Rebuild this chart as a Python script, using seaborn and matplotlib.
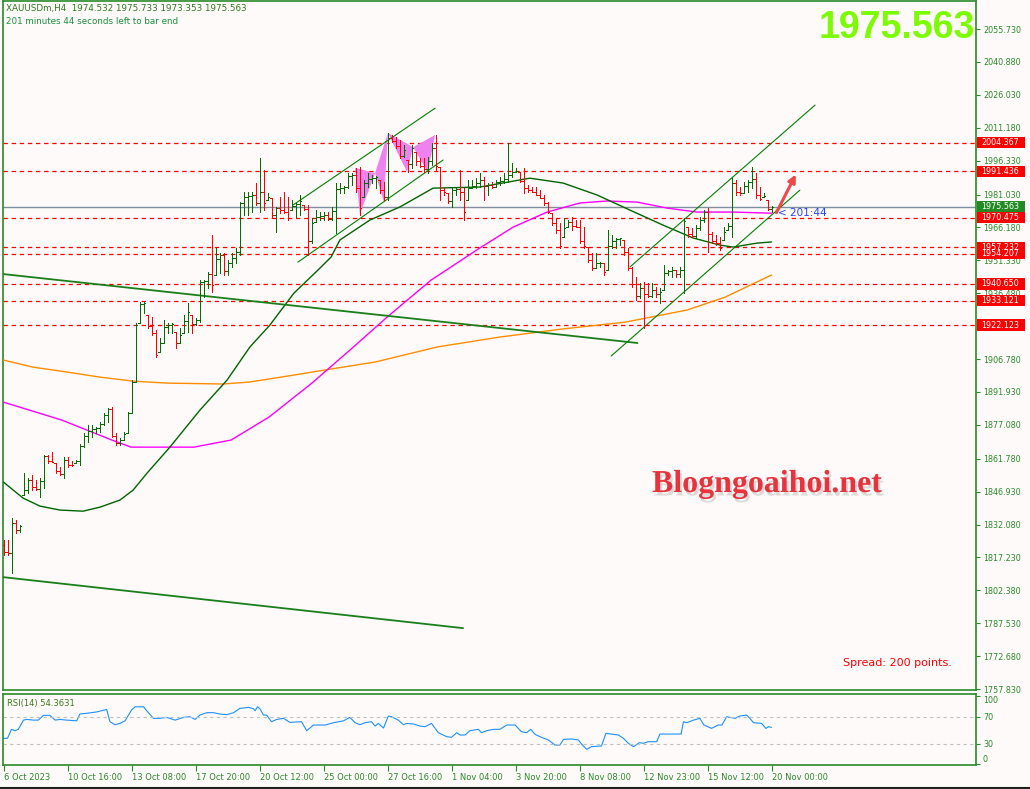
import numpy as np
import pandas as pd
import matplotlib
matplotlib.use("Agg")
import matplotlib.pyplot as plt
import matplotlib.transforms as mtransforms
import matplotlib.patheffects as pe
from matplotlib.patches import Rectangle
from matplotlib.lines import Line2D
import seaborn as sns

# --- XAUUSDm H4 bars, bar 0 = 6 Oct 2023 ---
highs = [1825.0, 1825.0, 1835.0, 1834.1, 1831.8, 1855.3, 1853.0, 1854.4, 1852.1, 1853.0,
         1863.4, 1863.4, 1864.8, 1859.8, 1858.0, 1862.5, 1862.5, 1860.7, 1861.2, 1868.4,
         1873.3, 1876.9, 1876.9, 1876.0, 1878.3, 1882.4, 1884.6, 1885.1, 1873.3, 1871.1,
         1873.8, 1882.8, 1897.3, 1923.0, 1932.5, 1932.5, 1926.6, 1925.7, 1919.9, 1916.2,
         1924.4, 1923.0, 1923.0, 1918.9, 1920.8, 1926.6, 1932.0, 1926.6, 1925.3, 1942.4,
         1942.4, 1946.0, 1962.7, 1956.9, 1954.6, 1954.6, 1951.4, 1954.6, 1956.9, 1977.6,
         1982.1, 1982.1, 1982.1, 1986.2, 1997.5, 1992.1, 1981.7, 1979.4, 1975.5, 1979.9,
         1982.1, 1979.9, 1978.5, 1977.0, 1980.8, 1976.3, 1976.3, 1970.4, 1974.0, 1973.1,
         1973.1, 1973.1, 1975.4, 1986.2, 1986.2, 1985.0, 1990.7, 1990.7, 1993.0, 1993.4,
         1987.5, 1990.7, 1989.8, 1989.5, 1987.5, 1986.6, 2008.8, 2007.9, 2007.0, 2005.6,
         2003.3, 1996.6, 2003.3, 2000.2, 1997.5, 1997.5, 1997.9, 2004.2, 2007.9, 1993.4,
         1984.0, 1981.7, 1984.0, 1984.0, 1992.1, 1984.0, 1987.5, 1987.5, 1988.5, 1990.7,
         1988.9, 1986.2, 1986.6, 1987.5, 1988.9, 1990.7, 2004.3, 1995.2, 1993.0, 1991.2,
         1993.0, 1985.3, 1984.4, 1984.4, 1983.0, 1980.8, 1977.6, 1972.6, 1970.4, 1968.1,
         1970.4, 1969.5, 1970.8, 1969.5, 1969.5, 1966.3, 1957.3, 1954.6, 1954.6, 1950.5,
         1950.1, 1965.0, 1962.7, 1961.4, 1961.4, 1960.5, 1956.9, 1948.3, 1943.8, 1941.0,
         1941.5, 1941.0, 1941.0, 1939.2, 1938.8, 1949.2, 1946.9, 1948.3, 1946.9, 1948.3,
         1970.4, 1966.3, 1965.9, 1967.2, 1970.8, 1974.0, 1974.9, 1964.1, 1962.7, 1961.8,
         1966.3, 1968.1, 1988.9, 1987.5, 1984.4, 1986.6, 1987.5, 1993.4, 1990.7, 1984.4,
         1981.7, 1978.5, 1975.733]
lows = [1818.3, 1818.3, 1810.2, 1828.2, 1828.7, 1845.4, 1846.3, 1847.6, 1847.6, 1844.4,
        1848.5, 1859.8, 1860.3, 1855.3, 1854.4, 1853.0, 1858.0, 1858.7, 1859.8, 1858.9,
        1867.0, 1869.3, 1871.5, 1873.3, 1873.8, 1877.0, 1878.3, 1871.5, 1867.9, 1867.9,
        1870.2, 1873.3, 1882.4, 1896.4, 1923.0, 1927.5, 1920.8, 1917.6, 1907.7, 1909.9,
        1914.0, 1918.5, 1918.5, 1911.7, 1914.0, 1918.5, 1918.9, 1918.5, 1922.1, 1923.5,
        1934.7, 1938.8, 1937.0, 1944.7, 1945.6, 1944.7, 1944.7, 1948.3, 1950.1, 1953.7,
        1971.7, 1971.7, 1973.1, 1976.3, 1973.1, 1974.0, 1978.5, 1970.4, 1964.1, 1972.6,
        1972.6, 1969.5, 1974.0, 1970.8, 1971.7, 1974.0, 1953.7, 1959.1, 1968.6, 1969.5,
        1969.5, 1969.5, 1969.5, 1963.6, 1981.7, 1981.7, 1983.9, 1985.3, 1982.1, 1971.7,
        1979.9, 1984.4, 1986.2, 1983.9, 1981.7, 1978.5, 1978.5, 2004.7, 2002.0, 1997.5,
        1997.9, 1991.2, 1993.0, 1994.3, 1993.4, 1991.2, 1990.7, 1994.3, 1992.1, 1978.5,
        1980.8, 1977.2, 1975.4, 1980.8, 1978.5, 1969.5, 1978.5, 1983.9, 1983.9, 1984.4,
        1978.5, 1980.8, 1983.9, 1984.4, 1985.3, 1986.2, 1986.6, 1988.9, 1991.2, 1986.6,
        1981.7, 1982.1, 1982.1, 1980.8, 1979.4, 1976.3, 1972.6, 1967.2, 1963.6, 1956.9,
        1961.8, 1966.3, 1965.0, 1966.3, 1959.1, 1956.9, 1950.5, 1946.9, 1947.8, 1948.3,
        1944.7, 1946.9, 1956.9, 1956.9, 1958.2, 1953.7, 1946.9, 1939.3, 1933.4, 1934.3,
        1920.8, 1934.7, 1934.7, 1934.7, 1932.0, 1937.9, 1944.7, 1943.8, 1943.8, 1943.8,
        1936.5, 1961.8, 1961.8, 1961.4, 1965.0, 1968.6, 1955.0, 1959.1, 1958.2, 1955.9,
        1960.5, 1965.0, 1961.8, 1980.8, 1980.8, 1981.7, 1982.1, 1983.9, 1979.4, 1978.5,
        1979.9, 1974.0, 1973.353]
closes = [1819.5, 1819.0, 1832.7, 1829.6, 1831.4, 1847.6, 1852.1, 1849.0, 1848.1, 1851.7,
          1863.0, 1860.7, 1860.4, 1856.2, 1855.0, 1861.0, 1859.0, 1858.8, 1860.7, 1867.5,
          1872.0, 1874.5, 1875.0, 1875.6, 1877.5, 1881.5, 1884.0, 1872.0, 1869.0, 1870.2,
          1873.0, 1882.4, 1896.5, 1922.0, 1931.5, 1932.0, 1921.5, 1918.5, 1908.5, 1914.0,
          1921.0, 1922.0, 1922.5, 1914.0, 1917.5, 1924.0, 1928.0, 1922.5, 1924.5, 1941.5,
          1942.2, 1945.0, 1940.0, 1952.0, 1953.5, 1946.5, 1950.0, 1952.5, 1955.0, 1977.0,
          1980.0, 1980.5, 1981.0, 1977.0, 1982.0, 1977.0, 1980.0, 1972.0, 1975.0, 1974.0,
          1973.0, 1970.5, 1976.0, 1976.8, 1978.0, 1974.5, 1960.0, 1968.0, 1971.0, 1971.5,
          1972.0, 1970.0, 1973.5, 1983.5, 1984.0, 1984.5, 1989.5, 1990.0, 1984.0, 1975.0,
          1986.0, 1988.0, 1988.5, 1989.0, 1983.0, 1980.0, 2006.5, 2005.0, 2003.0, 1998.5,
          2001.0, 1995.0, 2002.0, 1996.0, 1994.0, 1992.5, 1996.0, 2002.0, 1994.0, 1983.0,
          1982.0, 1978.0, 1983.0, 1983.5, 1982.0, 1973.0, 1984.0, 1985.0, 1986.0, 1987.5,
          1985.0, 1985.5, 1984.5, 1986.5, 1987.0, 1988.0, 1990.0, 1991.0, 1991.5, 1987.0,
          1984.0, 1983.0, 1982.2, 1981.0, 1979.5, 1977.0, 1973.0, 1968.0, 1965.0, 1958.0,
          1966.0, 1968.5, 1967.0, 1966.5, 1960.0, 1958.0, 1951.5, 1948.0, 1950.0, 1950.3,
          1946.0, 1958.0, 1960.0, 1961.0, 1961.2, 1955.0, 1948.0, 1940.5, 1935.0, 1939.0,
          1936.0, 1935.0, 1938.0, 1936.0, 1937.0, 1945.5, 1946.5, 1947.0, 1945.0, 1947.0,
          1969.0, 1963.0, 1962.5, 1966.0, 1969.5, 1973.0, 1963.0, 1960.0, 1959.0, 1957.0,
          1964.0, 1967.0, 1986.0, 1982.0, 1981.5, 1985.0, 1986.5, 1988.0, 1981.0, 1979.0,
          1980.5, 1974.532, 1975.563]
first_open = 1823.0

# moving averages (bar index, price)
ma_green_idx = [0, 4.9, 9.1, 14.1, 19.9, 24.1, 29.1, 32.4, 35.9, 41.6, 49.1, 55.9, 61.6,
                66.6, 72.6, 78.6, 81.9, 84.1, 91.6, 99.1, 107.4, 119.1, 131.6, 139.9,
                148.4, 156.6, 164.9, 172.4, 179.1, 182.4, 188.4, 192]
ma_green_val = [1851.2, 1844.0, 1840.4, 1838.6, 1838.1, 1839.9, 1843.1, 1847.6, 1855.3,
                1867.0, 1883.7, 1897.3, 1912.2, 1922.1, 1936.5, 1946.9, 1952.8, 1960.5,
                1969.5, 1975.4, 1983.9, 1984.4, 1988.4, 1986.2, 1980.8, 1974.0, 1967.2,
                1961.4, 1958.2, 1957.3, 1959.1, 1959.6]
ma_magenta_idx = [0, 14.6, 27.1, 31.9, 47.6, 56.9, 66.4, 77.1, 86.6, 95.9, 106.9, 119.1,
                  127.4, 135.9, 144.1, 150.9, 158.4, 165.9, 173.4, 182.4, 192]
ma_magenta_val = [1887.3, 1879.2, 1870.2, 1867.0, 1867.0, 1870.2, 1880.6, 1895.9, 1910.8,
                  1925.7, 1942.4, 1956.9, 1966.3, 1973.1, 1977.2, 1978.1, 1977.6, 1974.9,
                  1973.1, 1973.1, 1972.6]
ma_orange_idx = [0, 7.4, 15.9, 24.1, 32.4, 40.9, 54.9, 61.6, 69.4, 83.4, 92.9, 108.4,
                 124.1, 139.6, 155.4, 170.9, 180.4, 192]
ma_orange_val = [1906.3, 1903.1, 1900.9, 1898.6, 1896.8, 1895.9, 1895.5, 1896.4, 1898.6,
                 1902.7, 1905.4, 1912.2, 1916.7, 1920.3, 1923.4, 1928.9, 1934.7, 1944.7]

# drawn trend / channel lines (bar index pairs, price pairs)
trend_long = ([0, 158.5], [1945.1, 1914.0])
trend_low = ([0, 114.9], [1808.3, 1785.3])
chan1_up = ([72.4, 107.9], [1976.3, 2020.0])
chan1_dn = ([73.6, 109.9], [1950.5, 1996.6])
chan2_up = ([156.6, 202.9], [1948.3, 2021.4])
chan2_dn = ([151.9, 199.1], [1908.1, 1983.0])

# harmonic pattern triangles
pat_tris = [
    ([87.9, 89.1, 92.9], [1993.0, 1972.2, 1990.7]),
    ([92.9, 95.1, 96.1], [1990.7, 1977.6, 2008.8]),
    ([96.1, 100.9, 102.4], [2008.8, 1991.2, 2002.4]),
    ([102.4, 106.1, 107.9], [2002.4, 1991.2, 2007.9]),
]

levels = [2004.367, 1991.436, 1970.475, 1957.232, 1954.207, 1940.650, 1933.121, 1922.123]
bid = 1975.563

# RSI(14)
rsi_idx = [0, 1.0, 2.0, 2.9, 3.7, 5.0, 5.8, 7.5, 8.7, 10.0, 11.6, 12.9, 14.1, 15.8, 18.3,
           19.1, 20.8, 23.3, 25.8, 26.6, 27.9, 29.1, 30.4, 32.0, 32.9, 35.0, 35.8, 37.5,
           39.1, 40.8, 42.9, 45.0, 46.6, 47.9, 49.1, 50.8, 52.5, 54.1, 55.8, 57.5, 59.1,
           61.2, 62.5, 62.9, 63.5, 64.1, 65.0, 65.8, 67.0, 68.3, 70.0, 71.6, 74.5, 75.8,
           77.5, 80.4, 82.5, 85.0, 86.6, 87.9, 89.1, 90.4, 92.0, 92.9, 93.7, 95.0, 96.2,
           97.0, 98.7, 100.0, 100.8, 102.5, 104.1, 105.4, 107.0, 108.7, 110.8, 112.0,
           113.3, 114.1, 115.4, 116.6, 118.7, 119.5, 120.8, 122.5, 124.1, 125.8, 127.9,
           129.5, 130.8, 131.8, 132.9, 134.1, 136.2, 137.9, 139.1, 140.0, 142.0, 143.7,
           144.5, 145.8, 147.0, 149.5, 150.6, 153.7, 155.0, 156.2, 157.5, 159.0, 160.0,
           161.2, 163.3, 164.1, 166.6, 169.4, 170.0, 170.8, 172.5, 174.1, 175.1, 177.0,
           178.7, 179.6, 180.8, 182.9, 184.1, 185.8, 186.6, 187.5, 189.5, 190.6, 191.3, 192]
rsi_val = [38.3, 38.3, 51.5, 49.5, 51.5, 65, 66, 65, 65, 72, 72, 65, 66, 65, 64, 74, 75,
           77, 80.7, 62.7, 58.3, 60.2, 64, 79.8, 84.6, 84.6, 78.8, 67.6, 67.6, 69, 65, 69,
           70, 66, 72.4, 75.9, 75.9, 73.9, 73, 75.9, 82.2, 83.7, 81.7, 78.8, 84.6, 81.7,
           72.4, 72.4, 62.7, 66, 67.6, 61.7, 62.7, 49.5, 57.8, 57.8, 61.2, 64, 69, 61.2,
           58.3, 61.2, 62.7, 56.3, 60.2, 53.4, 70.9, 70, 65, 58.3, 60.2, 59.3, 56.3, 55.4,
           60.2, 46.6, 40.7, 39.8, 46.6, 43.2, 43.2, 49.5, 51.5, 46.6, 49.5, 51.5, 51.5,
           57.8, 57.8, 48, 46.6, 51.5, 44.1, 40.7, 35.9, 28.5, 28.5, 36.8, 37.3, 35.9, 30,
           22.2, 26.1, 27.1, 45.6, 43.2, 38.3, 31, 26.1, 32, 31, 33.4, 33.4, 44.6, 44.6,
           44.6, 62.7, 61.2, 65, 67.6, 57.8, 52.9, 57.8, 57.8, 70, 67.6, 71, 72.4, 67.6,
           61.2, 60.2, 52.9, 55.4, 54.36]

time_ticks = [0, 16, 32, 48, 64, 80, 96, 112, 128, 144, 160, 176, 192]
time_labels = ["6 Oct 2023", "10 Oct 16:00", "13 Oct 08:00", "17 Oct 20:00", "20 Oct 12:00",
               "25 Oct 00:00", "27 Oct 16:00", "1 Nov 04:00", "3 Nov 20:00", "8 Nov 08:00",
               "12 Nov 23:00", "15 Nov 12:00", "20 Nov 00:00"]
price_ticks = [2055.73, 2040.88, 2026.03, 2011.18, 1996.33, 1981.03, 1966.18, 1951.33,
               1936.48, 1921.63, 1906.78, 1891.93, 1877.08, 1861.78, 1846.93, 1832.08,
               1817.23, 1802.38, 1787.53, 1772.68, 1757.83]

BG = "#fdfaf9"
FG = "#2a8a2a"
sns.set_theme(style="white", rc={"axes.facecolor": BG, "figure.facecolor": BG})
plt.rcParams["font.family"] = ["DejaVu Sans"]

W, H = 1030, 789
fig = plt.figure(figsize=(W / 100, H / 100), dpi=100)
ax = fig.add_axes([3 / W, 1 - 690 / H, 973 / W, 689 / H])
rx = fig.add_axes([3 / W, 1 - 765 / H, 973 / W, 71 / H], sharex=ax)

# price bars
hi = np.array(highs)
lo = np.array(lows)
cl = np.array(closes)
op = np.clip(np.r_[first_open, cl[:-1]], lo, hi)
idx = np.arange(len(cl))
cols = np.where(cl >= op, "#006f00", "#ff0000")
ax.vlines(idx, lo, hi, colors=cols, lw=0.72, antialiased=False, zorder=4)
ax.hlines(op, idx - 0.32, idx, colors=cols, lw=0.72, antialiased=False, zorder=4)
ax.hlines(cl, idx, idx + 0.32, colors=cols, lw=0.72, antialiased=False, zorder=4)

# moving averages
sns.lineplot(x=ma_orange_idx, y=ma_orange_val, ax=ax, color="#ff8c00", lw=1.0,
             estimator=None, sort=False, zorder=3)
sns.lineplot(x=ma_magenta_idx, y=ma_magenta_val, ax=ax, color="#ff00ff", lw=1.0,
             estimator=None, sort=False, zorder=3)
sns.lineplot(x=ma_green_idx, y=ma_green_val, ax=ax, color="#006400", lw=1.0,
             estimator=None, sort=False, zorder=3)

# trend lines
for xs, ys in [trend_long, trend_low]:
    ax.plot(xs, ys, color="#1a7f1a", lw=1.3, zorder=3)
for xs, ys in [chan1_up, chan1_dn, chan2_up, chan2_dn]:
    ax.plot(xs, ys, color="#008000", lw=0.8, zorder=3)

for xs, ys in pat_tris:
    ax.fill(xs, ys, color="#ee82ee", lw=0, zorder=2)

# levels
trans = mtransforms.blended_transform_factory(ax.transAxes, ax.transData)
ax.axhline(bid, color="#8090a0", lw=1.0, zorder=1)
for lv in levels:
    ax.axhline(lv, color="#ff0000", lw=0.9, ls=(0, (3.5, 3)), zorder=1)

def price_box(v, fc):
    ax.add_patch(Rectangle((1.0015, v - 2.5), 0.049, 5.0, transform=trans,
                           facecolor=fc, edgecolor="none", clip_on=False, zorder=6))
    ax.text(1.0055, v, f"{v:.3f}", transform=trans, color="white", fontsize=5.8,
            va="center", ha="left", clip_on=False, zorder=7)

for lv in levels:
    price_box(lv, "#ff0000")
price_box(bid, "#238b23")

ax.set_ylim(1757.38, 2068.37)
ax.set_xlim(-0.125, 243.125)
ax.yaxis.tick_right()
ax.set_yticks(price_ticks)
ax.set_yticklabels([f"{v:.3f}" for v in price_ticks])
ax.tick_params(axis="y", right=True, left=False, length=3, width=0.8, color=FG,
               labelcolor=FG, labelsize=5.8, pad=2)
ax.tick_params(axis="x", bottom=False, labelbottom=False)
ax.set_xlabel("")
ax.set_ylabel("")

# arrow and countdown
ax.annotate("", xy=(198.4, 1991.2), xytext=(192.9, 1971.7),
            arrowprops=dict(arrowstyle="-|>", color="#f04848", lw=2.2, mutation_scale=11),
            zorder=8)
ax.text(193.6, 1972.7, "< 201:44", color="#2244ff", fontsize=7.5, va="center",
        ha="left", zorder=8)

# RSI panel
sns.lineplot(x=rsi_idx, y=rsi_val, ax=rx, color="#1e90ff", lw=0.8, estimator=None, sort=False)
for lv in (70, 30):
    rx.axhline(lv, color="#c0c0c0", lw=0.8, ls=(0, (3, 3)))
rx.set_ylim(-0.8, 103.3)
rx.yaxis.tick_right()
rx.set_yticks([100, 70, 30, 0])
rx.set_yticklabels(["100", "70", "30", "0"])
for lab in rx.get_yticklabels():
    if lab.get_text() == "100":
        lab.set_va("top")
    elif lab.get_text() == "0":
        lab.set_va("bottom")
rx.tick_params(axis="y", right=True, left=False, length=3, width=0.8, color=FG,
               labelcolor=FG, labelsize=5.8, pad=2)
rx.set_xticks(time_ticks)
rx.set_xticklabels(time_labels, ha="left")
rx.tick_params(axis="x", bottom=True, length=4, width=0.8, color=FG, labelcolor=FG,
               labelsize=6, pad=1.5, direction="out")
rx.set_xlabel("")
rx.set_ylabel("")
rx.text(0.004, 0.86, "RSI(14) 54.3631", transform=rx.transAxes, color="#3a7a1a",
        fontsize=6, va="center", ha="left")

for a in (ax, rx):
    for s in a.spines.values():
        s.set_color(FG)
        s.set_linewidth(1.2)

# header texts
fig.text(6 / W, 1 - 9 / H, "XAUUSDm,H4  1974.532 1975.733 1973.353 1975.563",
         color="#2d7a1f", fontsize=6.3, va="center", ha="left")
fig.text(6 / W, 1 - 21 / H, "201 minutes 44 seconds left to bar end",
         color="#1a8f3a", fontsize=6.3, va="center", ha="left")
fig.text(975 / W, 1 - 38 / H, "1975.563", color="#7cfc00", fontsize=27,
         fontweight="bold", family="Liberation Sans", ha="right", va="baseline")

fig.text(652 / W, 1 - 492 / H, "Blogngoaihoi.net", color="#e8323c", fontsize=23,
         fontweight="bold", family="Liberation Serif", ha="left", va="baseline",
         path_effects=[pe.withSimplePatchShadow(offset=(1.5, -2.5), shadow_rgbFace="#909090",
                                                alpha=0.3)])
fig.text(843 / W, 1 - 663 / H, "Spread: 200 points.", color="#ff0000", fontsize=8,
         va="center", ha="left")

fig.add_artist(Line2D([0, 1], [1 - 787.5 / H, 1 - 787.5 / H], color="#202020", lw=1.5))

fig.savefig("out.png", dpi=100, facecolor=BG)
